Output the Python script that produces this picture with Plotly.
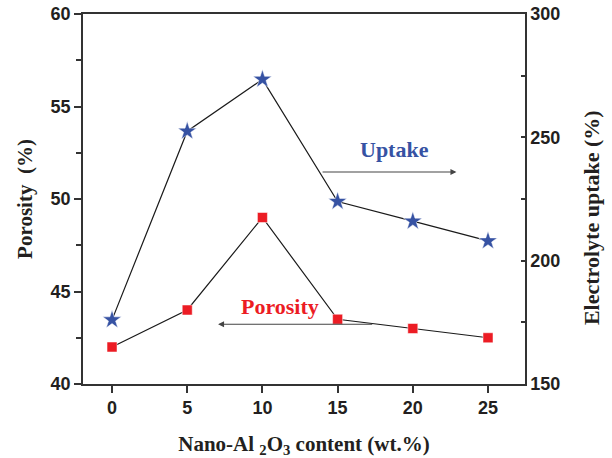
import plotly.graph_objects as go

# Nano-Al2O3 loading (wt.%)
content = [0, 5, 10, 15, 20, 25]
# Porosity of the membranes (%)
porosity = [42.0, 44.0, 49.0, 43.5, 43.0, 42.5]
# Electrolyte uptake (%)
uptake = [176, 252.5, 273.5, 224, 216, 208]

x_ticks = [0, 5, 10, 15, 20, 25]
left_ticks = [40, 45, 50, 55, 60]
right_ticks = [150, 200, 250, 300]

ink = "#231f20"
tick_font = dict(family="Liberation Sans", size=18, color=ink, weight="bold")
title_font = dict(family="Liberation Serif", size=21, color=ink, weight="bold")

fig = go.Figure()

fig.add_trace(go.Scatter(
    x=content, y=porosity, mode="lines+markers", name="Porosity",
    line=dict(color="#1a1a1a", width=1.2),
    marker=dict(symbol="square", size=10, color="#ec1c24",
                line=dict(color="white", width=0.5)),
    yaxis="y",
))
fig.add_trace(go.Scatter(
    x=content, y=uptake, mode="lines+markers", name="Uptake",
    line=dict(color="#1a1a1a", width=1.2),
    marker=dict(symbol="star", size=14, color="#3652a3",
                line=dict(color="white", width=0.5)),
    yaxis="y2",
))

axis_common = dict(
    showline=True, linecolor="#333333", linewidth=1.5,
    tickcolor="#333333", tickwidth=1.5, automargin=False,
    showgrid=False, zeroline=False, tickfont=tick_font,
)

fig.update_layout(
    width=612, height=458,
    margin=dict(l=83, r=87, t=14, b=74),
    paper_bgcolor="white", plot_bgcolor="white",
    showlegend=False,
    xaxis=dict(
        range=[-1.93, 27.46], tickvals=x_ticks, mirror=True,
        ticks="outside", ticklen=7,
        title=dict(text="Nano-Al <sub>2</sub>O<sub>3</sub> content (wt.%)",
                   font=title_font, standoff=20),
        **axis_common,
    ),
    yaxis=dict(
        range=[40, 60], tickvals=left_ticks,
        ticks="outside", ticklen=7,
        minor=dict(dtick=2.5, ticks="outside", ticklen=5, tickcolor="#333333"),
        title=dict(text="Porosity  (%)", font=title_font, standoff=12),
        **axis_common,
    ),
    yaxis2=dict(
        range=[150, 300], tickvals=right_ticks, overlaying="y", side="right",
        ticks="inside", ticklen=4,
        minor=dict(dtick=25, ticks="inside", ticklen=4, tickcolor="#333333"),
        **axis_common,
    ),
)

# Right-hand axis title, set slightly below the vertical centre
fig.add_annotation(x=1.152, y=0.449, xref="paper", yref="paper", showarrow=False,
                   text="Electrolyte uptake (%)", textangle=-90,
                   xanchor="center", yanchor="middle",
                   font=dict(family="Liberation Serif", size=22, color=ink, weight="bold"))

# Arrows pointing each series to its axis
fig.add_annotation(x=22.9, y=51.46, ax=13.9, ay=51.46, xref="x", yref="y",
                   axref="x", ayref="y", showarrow=True, arrowhead=2,
                   arrowsize=1, arrowwidth=1.2, arrowcolor="#444444", text="")
fig.add_annotation(x=7.05, y=43.23, ax=17.4, ay=43.23, xref="x", yref="y",
                   axref="x", ayref="y", showarrow=True, arrowhead=2,
                   arrowsize=1, arrowwidth=1.2, arrowcolor="#444444", text="")

fig.add_annotation(x=18.8, y=52.7, xref="x", yref="y", showarrow=False,
                   text="Uptake",
                   font=dict(family="Liberation Serif", size=22, color="#3652a3", weight="bold"))
fig.add_annotation(x=11.2, y=44.2, xref="x", yref="y", showarrow=False,
                   text="Porosity",
                   font=dict(family="Liberation Serif", size=22, color="#ec1c24", weight="bold"))

fig.write_html("out.html")
